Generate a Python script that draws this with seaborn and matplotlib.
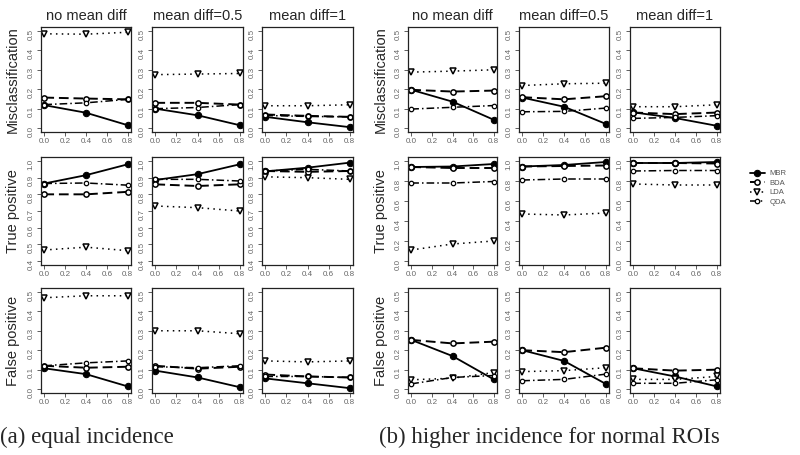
import matplotlib
matplotlib.use("Agg")
import matplotlib.pyplot as plt
import seaborn as sns
import pandas as pd

# ---- Data ----
corr = [0.0, 0.4, 0.8]
conditions = ["no mean diff", "mean diff=0.5", "mean diff=1"]
metrics = ["Misclassification", "True positive", "False positive"]
methods = ["MBR", "BDA", "LDA", "QDA"]

# (a) equal incidence -- one row per condition
a_mis_MBR = [[0.118, 0.079, 0.015], [0.100, 0.066, 0.015], [0.058, 0.030, 0.005]]
a_mis_BDA = [[0.157, 0.152, 0.148], [0.130, 0.130, 0.121], [0.070, 0.063, 0.058]]
a_mis_LDA = [[0.485, 0.483, 0.493], [0.275, 0.278, 0.281], [0.115, 0.115, 0.120]]
a_mis_QDA = [[0.121, 0.130, 0.148], [0.100, 0.106, 0.121], [0.065, 0.060, 0.058]]

a_tp_MBR = [[0.865, 0.915, 0.980], [0.886, 0.921, 0.980], [0.938, 0.960, 0.990]]
a_tp_BDA = [[0.800, 0.800, 0.815], [0.860, 0.850, 0.860], [0.940, 0.935, 0.940]]
a_tp_LDA = [[0.466, 0.483, 0.462], [0.730, 0.720, 0.700], [0.905, 0.900, 0.890]]
a_tp_QDA = [[0.865, 0.868, 0.855], [0.890, 0.890, 0.880], [0.940, 0.950, 0.940]]

a_fp_MBR = [[0.107, 0.077, 0.014], [0.095, 0.060, 0.010], [0.055, 0.030, 0.005]]
a_fp_BDA = [[0.120, 0.110, 0.115], [0.120, 0.105, 0.115], [0.075, 0.065, 0.060]]
a_fp_LDA = [[0.470, 0.480, 0.480], [0.300, 0.300, 0.285], [0.145, 0.140, 0.145]]
a_fp_QDA = [[0.120, 0.135, 0.145], [0.115, 0.110, 0.120], [0.065, 0.065, 0.060]]

# (b) higher incidence for normal ROIs
b_mis_MBR = [[0.197, 0.136, 0.043], [0.157, 0.110, 0.022], [0.081, 0.052, 0.012]]
b_mis_BDA = [[0.197, 0.188, 0.193], [0.159, 0.148, 0.164], [0.080, 0.072, 0.080]]
b_mis_LDA = [[0.288, 0.293, 0.300], [0.219, 0.228, 0.231], [0.110, 0.110, 0.120]]
b_mis_QDA = [[0.098, 0.107, 0.116], [0.084, 0.086, 0.103], [0.050, 0.055, 0.064]]

b_tp_MBR = [[0.940, 0.945, 0.970], [0.945, 0.960, 0.990], [0.980, 0.980, 0.990]]
b_tp_BDA = [[0.940, 0.930, 0.930], [0.945, 0.950, 0.955], [0.980, 0.980, 0.975]]
b_tp_LDA = [[0.110, 0.170, 0.200], [0.470, 0.460, 0.480], [0.770, 0.760, 0.760]]
b_tp_QDA = [[0.780, 0.780, 0.795], [0.810, 0.820, 0.820], [0.900, 0.905, 0.905]]

b_fp_MBR = [[0.253, 0.170, 0.050], [0.200, 0.145, 0.027], [0.107, 0.065, 0.014]]
b_fp_BDA = [[0.253, 0.235, 0.244], [0.200, 0.190, 0.213], [0.107, 0.095, 0.100]]
b_fp_LDA = [[0.048, 0.056, 0.085], [0.090, 0.095, 0.110], [0.050, 0.050, 0.065]]
b_fp_QDA = [[0.027, 0.060, 0.070], [0.043, 0.050, 0.077], [0.030, 0.030, 0.048]]

panel_a = [
    [a_mis_MBR, a_mis_BDA, a_mis_LDA, a_mis_QDA],
    [a_tp_MBR, a_tp_BDA, a_tp_LDA, a_tp_QDA],
    [a_fp_MBR, a_fp_BDA, a_fp_LDA, a_fp_QDA],
]
panel_b = [
    [b_mis_MBR, b_mis_BDA, b_mis_LDA, b_mis_QDA],
    [b_tp_MBR, b_tp_BDA, b_tp_LDA, b_tp_QDA],
    [b_fp_MBR, b_fp_BDA, b_fp_LDA, b_fp_QDA],
]

# y limits per row (R style 4% padding added below)
a_ylims = [(0.0, 0.5), (0.4, 1.0), (0.0, 0.5)]
b_ylims = [(0.0, 0.5), (0.0, 1.0), (0.0, 0.5)]
a_ysteps = [0.1, 0.1, 0.1]
b_ysteps = [0.1, 0.2, 0.1]

# ---- Styles ----
styles = {
    "MBR": dict(linestyle="-", linewidth=1.3, marker="o", markersize=4.6,
                markerfacecolor="black", markeredgecolor="black"),
    "BDA": dict(linestyle=(0, (5, 2.5)), linewidth=1.4, marker="o", markersize=3.8,
                markerfacecolor="white", markeredgecolor="black", markeredgewidth=1.1),
    "LDA": dict(linestyle=(0, (1, 2.8)), linewidth=1.1, marker="v", markersize=4.3,
                markerfacecolor="white", markeredgecolor="black", markeredgewidth=1.1),
    "QDA": dict(linestyle=(0, (5, 2, 1, 2)), linewidth=1.1, marker="o", markersize=3.2,
                markerfacecolor="white", markeredgecolor="black", markeredgewidth=0.9),
}

sns.set_style("ticks")
plt.rcParams["font.family"] = ["Liberation Sans", "DejaVu Sans"]

W, H = 800, 455
fig = plt.figure(figsize=(8, 4.55), dpi=100)

a_cols = [(41, 131), (152, 243), (262, 353)]
b_cols = [(408, 497), (519, 609), (630, 720)]
rows = [(27, 132), (157, 265), (288, 393)]


def draw_panel(data, cols, ylims, ysteps, label_x):
    axes = []
    for r, (y0, y1) in enumerate(rows):
        lo, hi = ylims[r]
        pad = (hi - lo) * 0.04
        for c, (x0, x1) in enumerate(cols):
            ax = fig.add_axes([x0 / W, 1 - y1 / H, (x1 - x0) / W, (y1 - y0) / H])
            for m, vals in zip(methods, data[r]):
                df = pd.DataFrame({"corr": corr, "value": vals[c]})
                sns.lineplot(data=df, x="corr", y="value", ax=ax, color="black",
                             errorbar=None, label=m, legend=False, **styles[m])
            ax.set_xlim(-0.032, 0.832)
            ax.set_ylim(lo - pad, hi + pad)
            ax.set_xticks([0.0, 0.2, 0.4, 0.6, 0.8])
            ax.set_xticklabels(["0.0", "0.2", "0.4", "0.6", "0.8"])
            n = int(round((hi - lo) / ysteps[r]))
            yt = [lo + i * ysteps[r] for i in range(n + 1)]
            ax.set_yticks(yt)
            ax.set_yticklabels([f"{v:.1f}" for v in yt])
            ax.set_xlabel("")
            ax.set_ylabel("")
            ax.tick_params(labelsize=5.8, labelcolor="#666666", length=3, width=0.6,
                           pad=1.5, color="#444444")
            ax.tick_params(axis="y", labelrotation=90)
            for s in ax.spines.values():
                s.set_visible(True)
                s.set_linewidth(0.9)
                s.set_color("#222222")
            if r == 0:
                ax.set_title(conditions[c], fontsize=10.5, pad=5)
            axes.append(ax)
        fig.text(label_x / W, 1 - ((y0 + y1) / 2) / H, metrics[r], rotation=90,
                 ha="center", va="center", fontsize=10.5)
    return axes


axes_a = draw_panel(panel_a, a_cols, a_ylims, a_ysteps, 13)
axes_b = draw_panel(panel_b, b_cols, b_ylims, b_ysteps, 381)

handles, labels = axes_b[0].get_legend_handles_labels()
fig.legend(handles, labels, loc="center", bbox_to_anchor=(768 / W, 1 - 188 / H),
           frameon=False, fontsize=5.5, handlelength=2.0, labelspacing=0.3,
           handletextpad=0.6, labelcolor="#555555")

fig.text(0, 1 - 437 / H, "(a) equal incidence", fontsize=16.5,
         family=["Liberation Serif", "DejaVu Serif"], ha="left", va="center")
fig.text(379 / W, 1 - 437 / H, "(b) higher incidence for normal ROIs", fontsize=16.5,
         family=["Liberation Serif", "DejaVu Serif"], ha="left", va="center")

fig.savefig("out.png", dpi=100)
plt.close(fig)
